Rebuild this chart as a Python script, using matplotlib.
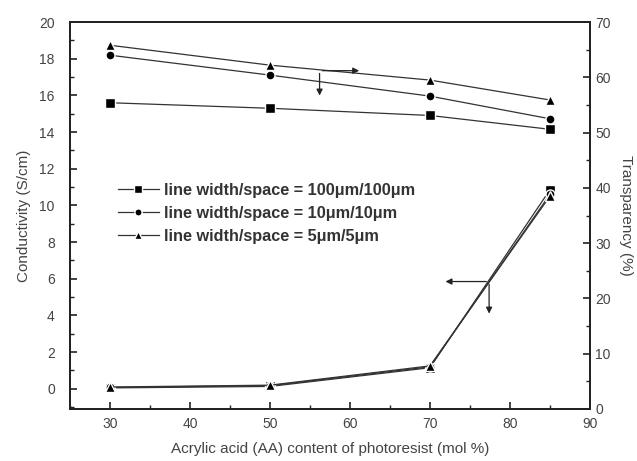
import matplotlib
matplotlib.use("Agg")
import matplotlib.pyplot as plt
from matplotlib.ticker import MultipleLocator

aa = [30, 50, 70, 85]

# conductivity (S/cm), left axis
cond_100 = [0.05, 0.13, 1.15, 10.85]
cond_10 = [0.08, 0.17, 1.2, 10.6]
cond_5 = [0.1, 0.2, 1.25, 10.5]

# transparency (%), right axis
trans_100 = [55.4, 54.4, 53.1, 50.6]
trans_10 = [64.0, 60.4, 56.6, 52.5]
trans_5 = [65.8, 62.2, 59.5, 55.9]

labels = ["line width/space = 100\u03bcm/100\u03bcm",
          "line width/space = 10\u03bcm/10\u03bcm",
          "line width/space = 5\u03bcm/5\u03bcm"]
markers = ["s", "o", "^"]

gray = "#444444"
plt.rcParams['font.family'] = ['Liberation Sans', 'DejaVu Sans']

fig = plt.figure(figsize=(6.37, 4.61), dpi=100)
ax = fig.add_axes([0.110, 0.1128, 0.816, 0.8394])
ax2 = ax.twinx()

lkw = dict(color="#333333", lw=0.9, ms=6.5, mfc="black", mec="white", mew=1.0)
handles = []
for c, t, m, lab in zip([cond_100, cond_10, cond_5], [trans_100, trans_10, trans_5], markers, labels):
    h, = ax.plot(aa, c, marker=m, label=lab, **lkw)
    ax2.plot(aa, t, marker=m, **lkw)
    handles.append(h)

ax.set_xlim(25, 90)
ax.set_ylim(-1.1, 20)
ax2.set_ylim(0, 70)

ax.xaxis.set_major_locator(MultipleLocator(10))
ax.xaxis.set_minor_locator(MultipleLocator(5))
ax.yaxis.set_major_locator(MultipleLocator(2))
ax.yaxis.set_minor_locator(MultipleLocator(1))
ax2.yaxis.set_major_locator(MultipleLocator(10))
ax2.yaxis.set_minor_locator(MultipleLocator(5))

for a in (ax, ax2):
    a.tick_params(which="both", direction="in", colors="#222222", labelcolor=gray, labelsize=10)
    a.tick_params(which="major", length=5, width=1.2)
    a.tick_params(which="minor", length=3, width=1.0)
    for s in a.spines.values():
        s.set_linewidth(1.3)
        s.set_color("#222222")
ax.tick_params(axis="y", pad=11)
ax2.tick_params(axis="y", pad=4)
ax.tick_params(axis="x", pad=6)

ax.set_xlabel("Acrylic acid (AA) content of photoresist (mol %)", color=gray, fontsize=11, labelpad=8)
ax.set_ylabel("Conductivity (S/cm)", color=gray, fontsize=11, labelpad=6)
ax2.set_ylabel("Transparency (%)", color=gray, fontsize=11, rotation=270, labelpad=16)

leg = ax.legend(handles=handles, loc="upper left", bbox_to_anchor=(0.064, 0.622), frameon=False,
                fontsize=11.7, handlelength=2.5, handletextpad=0.35, labelspacing=0.5, markerscale=0.8)
for txt in leg.get_texts():
    txt.set_color("#333333")
    txt.set_fontweight("bold")

# indicator arrows (transparency -> right, conductivity -> left)
akw = dict(arrowstyle="-|>", color="#222222", lw=0.9, mutation_scale=9)
ax2.annotate("", xy=(61.5, 61.2), xytext=(56.2, 61.2), arrowprops=akw)
ax2.annotate("", xy=(56.2, 56.2), xytext=(56.2, 61.2), arrowprops=akw)
ax.annotate("", xy=(71.6, 5.85), xytext=(77.4, 5.85), arrowprops=akw)
ax.annotate("", xy=(77.4, 3.95), xytext=(77.4, 5.85), arrowprops=akw)

fig.savefig("out.png", dpi=100)
